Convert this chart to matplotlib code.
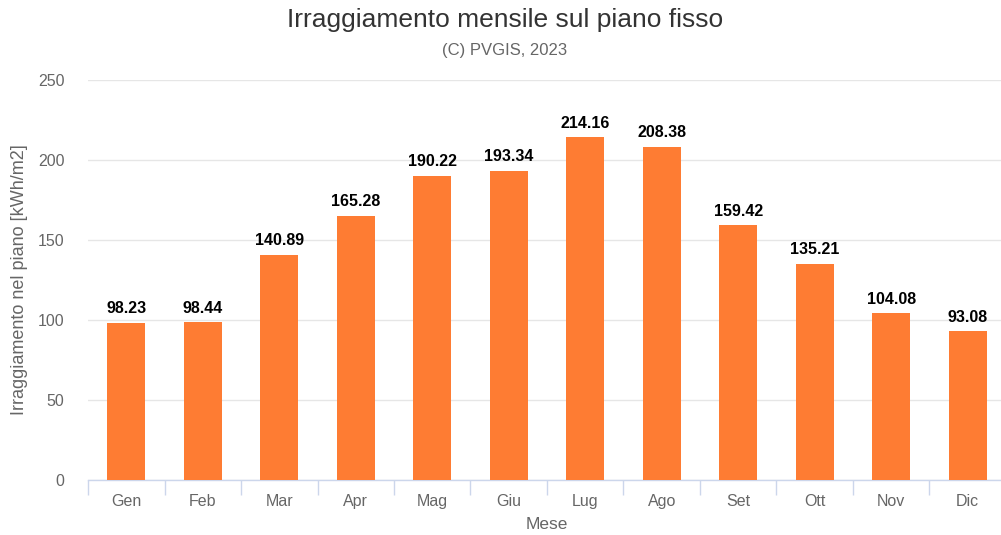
import numpy as np
import matplotlib
matplotlib.use('Agg')
import matplotlib.pyplot as plt

months = ['Gen', 'Feb', 'Mar', 'Apr', 'Mag', 'Giu', 'Lug', 'Ago', 'Set', 'Ott', 'Nov', 'Dic']
values = [98.23, 98.44, 140.89, 165.28, 190.22, 193.34, 214.16, 208.38, 159.42, 135.21, 104.08, 93.08]
yticks = [0, 50, 100, 150, 200, 250]

plt.rcParams['font.family'] = ['Liberation Sans', 'DejaVu Sans']

W, H = 1001, 535
fig = plt.figure(figsize=(W / 100, H / 100), dpi=100)
# plot area in pixels: x 88..1006, y 80..480
ax = fig.add_axes([88 / W, 1 - 480 / H, (1006 - 88) / W, 400 / H])

x = np.arange(len(months))
ax.bar(x, values, width=0.5, color='#fe7c33', zorder=3)
for xi, v in zip(x, values):
    ax.text(xi, v + 4, '{:.2f}'.format(v), ha='center', va='bottom',
            fontsize=11.5, fontweight='bold', color='#000000', zorder=4)

ax.set_xlim(-0.5, len(months) - 0.5)
ax.set_ylim(0, 250)
ax.set_yticks(yticks)
ax.set_yticklabels([str(t) for t in yticks], fontsize=11.5, color='#666666')
ax.set_xticks(x)
ax.set_xticklabels(months, fontsize=11.5, color='#666666')
ax.tick_params(axis='x', which='major', length=0, pad=10)
ax.set_xticks(np.arange(len(months) + 1) - 0.5, minor=True)
ax.tick_params(axis='x', which='minor', length=11, width=1, color='#ccd6eb')
ax.tick_params(axis='y', length=0, pad=17)

ax.grid(axis='y', color='#e6e6e6', linewidth=1, zorder=0)
for s in ['top', 'right', 'left']:
    ax.spines[s].set_visible(False)
ax.spines['bottom'].set_color('#ccd6eb')
ax.spines['bottom'].set_linewidth(1)

ax.set_ylabel('Irraggiamento nel piano [kWh/m2]', fontsize=13, color='#666666')
ax.yaxis.set_label_coords(-60 / 918, 0.5)
ax.set_xlabel('Mese', fontsize=12.5, color='#666666')
ax.xaxis.set_label_coords(0.5, -37 / 400)

fig.text(505 / W, 1 - 20 / H, 'Irraggiamento mensile sul piano fisso', ha='center', va='center',
         fontsize=19, color='#333333')
fig.text(505 / W, 1 - 51 / H, '(C) PVGIS, 2023', ha='center', va='center',
         fontsize=12, color='#666666')

fig.savefig('out.png', dpi=100)
